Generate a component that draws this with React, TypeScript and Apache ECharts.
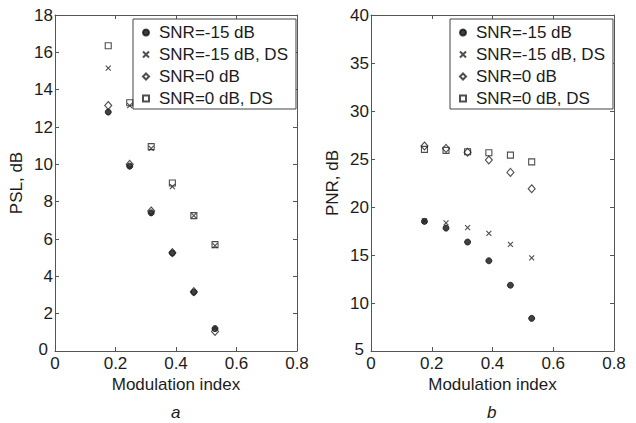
import React, { useEffect, useRef } from "react";
import * as echarts from "echarts";

const modIndex = [0.176, 0.247, 0.318, 0.388, 0.459, 0.529];
const seriesNames = ["SNR=-15 dB", "SNR=-15 dB, DS", "SNR=0 dB", "SNR=0 dB, DS"];

// Panel a: PSL, dB
const pslSnrM15 = [12.8, 9.9, 7.4, 5.25, 3.15, 1.2];
const pslSnrM15DS = [15.15, 13.15, 10.85, 8.8, 7.25, 5.65];
const pslSnr0 = [13.15, 10.0, 7.5, 5.27, 3.18, 1.05];
const pslSnr0DS = [16.35, 13.3, 10.95, 9.0, 7.25, 5.7];

// Panel b: PNR, dB
const pnrSnrM15 = [18.5, 17.8, 16.35, 14.4, 11.85, 8.4];
const pnrSnrM15DS = [18.55, 18.35, 17.85, 17.25, 16.1, 14.7];
const pnrSnr0 = [26.35, 26.1, 25.7, 24.9, 23.6, 21.9];
const pnrSnr0DS = [26.0, 25.9, 25.75, 25.65, 25.4, 24.7];

const xTicks = { min: 0, max: 0.8, interval: 0.2 };
const pslTicks = { min: 0, max: 18, interval: 2 };
const pnrTicks = { min: 5, max: 40, interval: 5 };

const FONT = "Liberation Sans";
const INK = "#1c1c1c";
const AXIS = "#555";

const crossPath = "path://M0,0L10,10M10,0L0,10";

const symbolStyles = [
  { symbol: "circle", symbolSize: 6, itemStyle: { color: "#111", borderColor: "#111", borderWidth: 1 } },
  { symbol: crossPath, symbolSize: 5, itemStyle: { color: "rgba(0,0,0,0)", borderColor: "#222", borderWidth: 1.1 } },
  { symbol: "diamond", symbolSize: [7, 8], itemStyle: { color: "rgba(0,0,0,0)", borderColor: "#222", borderWidth: 1.1 } },
  { symbol: "rect", symbolSize: 6, itemStyle: { color: "rgba(0,0,0,0)", borderColor: "#222", borderWidth: 1.1 } },
];

function pairs(ys: number[]) {
  return modIndex.map((x, i) => [x, ys[i]]);
}

export default function App() {
  const ref = useRef<HTMLDivElement>(null);
  useEffect(() => {
    if (!ref.current) return;
    const chart = echarts.init(ref.current, undefined, { renderer: "svg" });

    const mkX = (gridIndex: number, pos: "bottom" | "top") => ({
      type: "value",
      gridIndex,
      position: pos,
      ...xTicks,
      name: pos === "bottom" ? "Modulation index" : "",
      nameLocation: "middle",
      nameGap: 24,
      nameTextStyle: { fontFamily: FONT, fontSize: 17, color: INK },
      axisLine: { show: true, onZero: false, lineStyle: { color: AXIS, width: 1 } },
      axisTick: { show: true, inside: true, length: 4, lineStyle: { color: AXIS } },
      axisLabel: {
        show: pos === "bottom",
        fontFamily: FONT,
        fontSize: 17,
        lineHeight: 12,
        color: INK,
        margin: 6,
        formatter: (v: number) => (v === 0 ? "0" : String(Math.round(v * 10) / 10)),
      },
      splitLine: { show: false },
    });
    const mkY = (gridIndex: number, pos: "left" | "right", ticks: any, name: string) => ({
      type: "value",
      gridIndex,
      position: pos,
      ...ticks,
      name: pos === "left" ? name : "",
      nameLocation: "middle",
      nameGap: 30,
      nameTextStyle: { fontFamily: FONT, fontSize: 17, color: INK },
      axisLine: { show: true, onZero: false, lineStyle: { color: AXIS, width: 1 } },
      axisTick: { show: true, inside: true, length: 4, lineStyle: { color: AXIS } },
      axisLabel: {
        show: pos === "left",
        fontFamily: FONT,
        fontSize: 17,
        lineHeight: 10,
        color: INK,
        margin: 2,
        formatter: (v: number) => (v === ticks.min ? "{z|" + v + "}" : String(v)),
        rich: {
          z: { fontFamily: FONT, fontSize: 17, lineHeight: 10, color: INK, padding: [0, 5, 3, 0] },
        },
      },
      splitLine: { show: false },
    });

    const mkLegend = (left: number) => ({
      orient: "vertical",
      left,
      top: 19,
      data: seriesNames,
      selectedMode: false,
      backgroundColor: "#fff",
      borderColor: "#444",
      borderWidth: 1,
      borderRadius: 0,
      padding: [5, 8, 2, 9],
      itemWidth: 6,
      itemHeight: 6,
      itemGap: 5,
      textStyle: { fontFamily: FONT, fontSize: 17, color: INK, lineHeight: 17, padding: [0, 0, 0, 5] },
    });

    const panelA = [pslSnrM15, pslSnrM15DS, pslSnr0, pslSnr0DS];
    const panelB = [pnrSnrM15, pnrSnrM15DS, pnrSnr0, pnrSnr0DS];
    const series: any[] = [];
    [panelA, panelB].forEach((panel, g) => {
      panel.forEach((ys, i) => {
        series.push({
          type: "scatter",
          name: seriesNames[i],
          xAxisIndex: g * 2,
          yAxisIndex: g * 2,
          data: pairs(ys),
          ...symbolStyles[i],
          z: 2 + i,
        });
      });
    });

    chart.setOption({
      animation: false,
      backgroundColor: "#fff",
      grid: [
        { left: 55, top: 15, width: 242, height: 336 },
        { left: 371, top: 15, width: 243, height: 336 },
      ],
      xAxis: [mkX(0, "bottom"), mkX(0, "top"), mkX(1, "bottom"), mkX(1, "top")],
      yAxis: [
        mkY(0, "left", pslTicks, "PSL, dB"),
        mkY(0, "right", pslTicks, ""),
        mkY(1, "left", pnrTicks, "PNR, dB"),
        mkY(1, "right", pnrTicks, ""),
      ],
      legend: [mkLegend(133), mkLegend(450)],
      series,
      graphic: [
        {
          type: "text",
          left: 171,
          top: 404,
          style: { text: "a", fontFamily: FONT, fontSize: 17, fontStyle: "italic", fill: INK },
        },
        {
          type: "text",
          left: 487,
          top: 404,
          style: { text: "b", fontFamily: FONT, fontSize: 17, fontStyle: "italic", fill: INK },
        },
      ],
    });
    return () => chart.dispose();
  }, []);
  return (
    <div
      ref={ref}
      style={{ position: "fixed", left: 0, top: 0, width: 636, height: 423 }}
    />
  );
}
